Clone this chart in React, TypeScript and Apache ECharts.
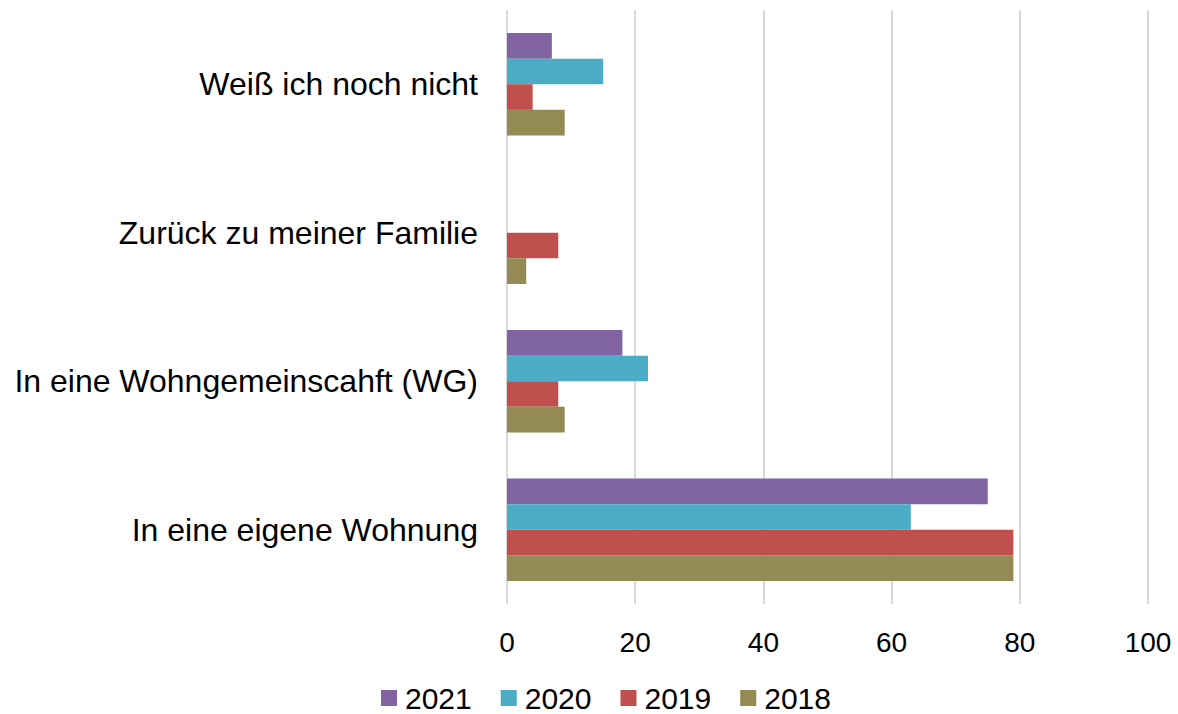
import React, { useEffect, useRef } from "react";
import * as echarts from "echarts";

const categories = [
  "In eine eigene Wohnung",
  "In eine Wohngemeinscahft (WG)",
  "Zurück zu meiner Familie",
  "Weiß ich noch nicht",
];
const years = ["2021", "2020", "2019", "2018"];
const v2021 = [75, 18, 0, 7];
const v2020 = [63, 22, 0, 15];
const v2019 = [79, 8, 8, 4];
const v2018 = [79, 9, 3, 9];
const colors = ["#8064A2", "#4BACC6", "#C0504D", "#948A54"];
const xTicks = [0, 20, 40, 60, 80, 100];

export default function App() {
  const ref = useRef<HTMLDivElement>(null);
  useEffect(() => {
    const chart = echarts.init(ref.current!, null, { renderer: "svg" });
    const values = [v2021, v2020, v2019, v2018];
    const font = "Liberation Sans, Arial, sans-serif";
    chart.setOption({
      animation: false,
      textStyle: { fontFamily: font },
      grid: { left: 507, right: 30, top: 10, bottom: 110, containLabel: false },
      legend: {
        data: years,
        top: 683,
        left: 381,
        padding: 0,
        icon: "rect",
        itemWidth: 16,
        itemHeight: 16,
        itemGap: 29,
        textStyle: {
          fontSize: 30,
          color: "#000",
          fontFamily: font,
          padding: [0, 0, 0, 3],
        },
      },
      xAxis: {
        type: "value",
        min: xTicks[0],
        max: xTicks[xTicks.length - 1],
        interval: 20,
        axisLine: { show: false },
        axisTick: { show: false },
        splitLine: { lineStyle: { color: "#D9D9D9", width: 2 } },
        axisLabel: { fontSize: 28, color: "#000", margin: 24, fontFamily: font },
      },
      yAxis: {
        type: "category",
        data: categories,
        axisLine: { show: false },
        axisTick: { show: false },
        axisLabel: { fontSize: 32, color: "#000", margin: 29, fontFamily: font },
      },
      series: years.map((y, i) => ({
        name: y,
        type: "bar",
        data: values[i],
        itemStyle: { color: colors[i] },
        barGap: "0%",
        barCategoryGap: "31%",
      })),
    });
    return () => chart.dispose();
  }, []);
  return (
    <div
      ref={ref}
      style={{ position: "absolute", left: 0, top: 0, width: 1178, height: 714 }}
    />
  );
}
